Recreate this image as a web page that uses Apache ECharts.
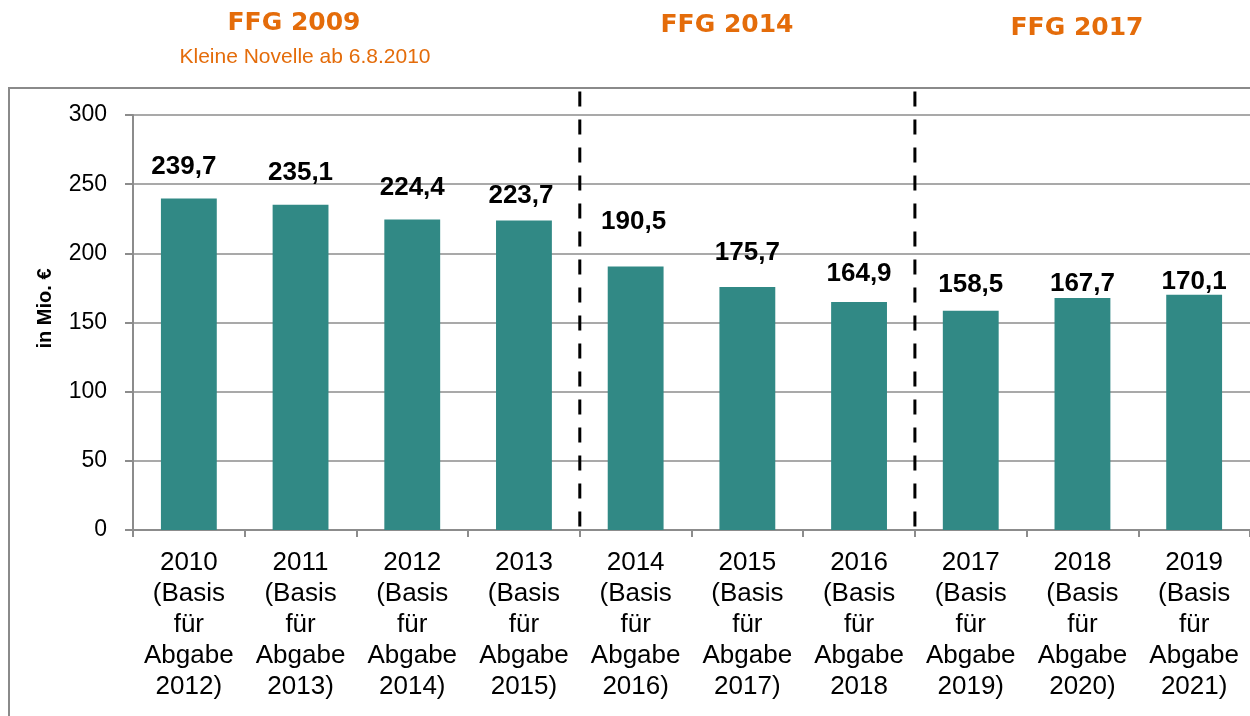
<!DOCTYPE html>
<html>
<head>
<meta charset="utf-8">
<script src="https://cdn.jsdelivr.net/npm/echarts@6/dist/echarts.min.js"></script>
<style>
html,body{margin:0;padding:0;background:#fff;}
#chart{width:1250px;height:716px;}
</style>
</head>
<body>
<div id="chart"></div>
<script>
// ---- data ----
const categories = [
  "2010\n(Basis\nfür\nAbgabe\n2012)",
  "2011\n(Basis\nfür\nAbgabe\n2013)",
  "2012\n(Basis\nfür\nAbgabe\n2014)",
  "2013\n(Basis\nfür\nAbgabe\n2015)",
  "2014\n(Basis\nfür\nAbgabe\n2016)",
  "2015\n(Basis\nfür\nAbgabe\n2017)",
  "2016\n(Basis\nfür\nAbgabe\n2018",
  "2017\n(Basis\nfür\nAbgabe\n2019)",
  "2018\n(Basis\nfür\nAbgabe\n2020)",
  "2019\n(Basis\nfür\nAbgabe\n2021)"
];
const values = [239.7, 235.1, 224.4, 223.7, 190.5, 175.7, 164.9, 158.5, 167.7, 170.1];
const yTicks = [0, 50, 100, 150, 200, 250, 300];
const periodBoundaries = [4, 7];           // dashed separators between category groups
const periodTitles = ["FFG 2009", "FFG 2014", "FFG 2017"];
const periodSubtitle = "Kleine Novelle ab 6.8.2010";
const yAxisName = "in Mio. €";

// ---- label styling (not data) ----
const labelDist = [19, 19, 19, 12, 32, 21, 15, 13, 1, 0];
const labelDx = [-5, 0, 0, -3, -2, 0, 0, 0, 0, 0];

const chart = echarts.init(document.getElementById('chart'));
const gridCol = '#8c8c8c';
const orange = '#e46c0a';

const barData = values.map((v, i) => ({
  value: v,
  label: { distance: labelDist[i], offset: [labelDx[i], 0] }
}));

const sepSeries = periodBoundaries.map(b => ({
  type: 'line',
  xAxisIndex: 1,
  yAxisIndex: 0,
  data: [[b, 317], [b, 0]],
  symbol: 'none',
  clip: false,
  silent: true,
  z: 5,
  lineStyle: { color: '#000', width: 3, type: [15, 13] }
}));

chart.setOption({
  animation: false,
  backgroundColor: '#fff',
  textStyle: { fontFamily: 'Liberation Sans, Arial, sans-serif' },
  graphic: [
    { type: 'rect', z: -10, shape: { x: 9, y: 88, width: 1300, height: 700 },
      style: { fill: 'none', stroke: '#8a8a8a', lineWidth: 2 } },
    { type: 'text', x: 294, y: 23, style: { text: periodTitles[0], fill: orange,
      font: 'bold 25px "DejaVu Sans", sans-serif', textAlign: 'center', textVerticalAlign: 'middle' } },
    { type: 'text', x: 305, y: 57, style: { text: periodSubtitle, fill: orange,
      font: '21px "Liberation Sans", Arial, sans-serif', textAlign: 'center', textVerticalAlign: 'middle' } },
    { type: 'text', x: 727, y: 25, style: { text: periodTitles[1], fill: orange,
      font: 'bold 25px "DejaVu Sans", sans-serif', textAlign: 'center', textVerticalAlign: 'middle' } },
    { type: 'text', x: 1077, y: 28, style: { text: periodTitles[2], fill: orange,
      font: 'bold 25px "DejaVu Sans", sans-serif', textAlign: 'center', textVerticalAlign: 'middle' } }
  ],
  grid: { left: 133, top: 115, width: 1121, height: 415, containLabel: false },
  xAxis: [{
    type: 'category',
    data: categories,
    boundaryGap: true,
    axisLine: { show: true, lineStyle: { color: gridCol, width: 2 } },
    axisTick: { show: true, length: 7, lineStyle: { color: gridCol, width: 2 } },
    axisLabel: { color: '#000', fontSize: 26, lineHeight: 31, margin: 17, interval: 0,
      fontFamily: 'Liberation Sans, Arial, sans-serif' }
  }, {
    type: 'value', min: 0, max: 10, show: false
  }],
  yAxis: {
    type: 'value',
    min: 0, max: 300, interval: 50,
    name: yAxisName,
    nameLocation: 'middle',
    nameGap: 78,
    nameRotate: 90,
    nameTextStyle: { color: '#000', fontSize: 20, fontWeight: 'bold', padding: [0, 0, 0, 28],
      fontFamily: 'Liberation Sans, Arial, sans-serif' },
    axisLine: { show: true, lineStyle: { color: gridCol, width: 2 } },
    axisTick: { show: true, length: 8, lineStyle: { color: gridCol, width: 2 } },
    splitLine: { show: true, lineStyle: { color: gridCol, width: 1.5 } },
    axisLabel: { color: '#000', fontSize: 23, margin: 26,
      fontFamily: 'Liberation Sans, Arial, sans-serif',
      formatter: v => (yTicks.includes(v) ? String(v) : '') }
  },
  series: [{
    type: 'bar',
    data: barData,
    barWidth: '50%',
    itemStyle: { color: '#318985' },
    z: 3,
    label: {
      show: true, position: 'top', color: '#000', fontSize: 26, fontWeight: 'bold',
      lineHeight: 26, fontFamily: 'Liberation Sans, Arial, sans-serif',
      formatter: p => p.value.toFixed(1).replace('.', ',')
    }
  }].concat(sepSeries)
});
</script>
</body>
</html>
